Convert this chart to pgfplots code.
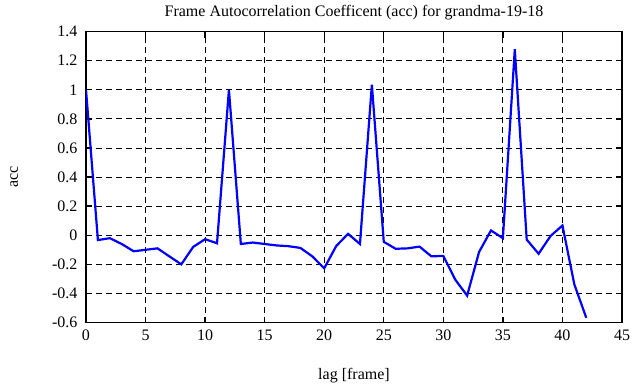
\documentclass[border=0pt]{standalone}
\usepackage{fontspec}
\setmainfont{Liberation Serif}
\usepackage{pgfplots}
\pgfplotsset{compat=1.18}
\begin{document}
\fontsize{16bp}{18bp}\selectfont
\begin{tikzpicture}
\begin{axis}[name=ax,
  scale only axis, width=536bp, height=291bp,
  xmin=0, xmax=45, ymin=-0.6, ymax=1.4,
  xtick={0,5,...,45}, ytick={-0.6,-0.4,...,1.4},
  yticklabels={-0.6,-0.4,-0.2,0,0.2,0.4,0.6,0.8,1,1.2,1.4},
  /pgf/number format/assume math mode=true,
  tick align=inside, major tick length=6bp,
  tick style={black, line width=1.4bp},
  axis line style={black, line width=1.5bp},
  grid=major, major grid style={black, line width=0.8bp, dash pattern=on 6bp off 4bp},
  tick label style={font=\fontsize{16bp}{18bp}\selectfont},
  label style={font=\fontsize{16bp}{18bp}\selectfont},
  title style={font=\fontsize{16bp}{18bp}\selectfont, at={(0.5,1)}, above, yshift=0bp},
  title={Frame Autocorrelation Coefficent (acc) for grandma-19-18},
  xlabel={lag [frame]}, ylabel={acc},
  xlabel style={at={(axis description cs:0.5,-0.182)}, anchor=center},
  ylabel style={at={(axis description cs:-0.134,0.5)}, anchor=center},
  xticklabel style={yshift=-2bp},
  yticklabel style={xshift=-3bp},
]
\addplot[blue, line width=2.2bp, mark=none] coordinates {
(0,1.0) (1,-0.033) (2,-0.02) (3,-0.06) (4,-0.11) (5,-0.10) (6,-0.09) (7,-0.145) (8,-0.2) (9,-0.08) (10,-0.027) (11,-0.055) (12,1.0) (13,-0.06) (14,-0.05) (15,-0.06) (16,-0.07) (17,-0.075) (18,-0.087) (19,-0.145) (20,-0.227) (21,-0.075) (22,0.01) (23,-0.06) (24,1.035) (25,-0.045) (26,-0.093) (27,-0.09) (28,-0.078) (29,-0.145) (30,-0.142) (31,-0.305) (32,-0.415) (33,-0.115) (34,0.033) (35,-0.02) (36,1.278) (37,-0.03) (38,-0.127) (39,-0.005) (40,0.067) (41,-0.338) (42,-0.567)
};
\end{axis}
\useasboundingbox ([xshift=-86bp,yshift=-65bp]ax.south west) rectangle ([xshift=19bp,yshift=31bp]ax.north east);
\end{tikzpicture}
\end{document}
